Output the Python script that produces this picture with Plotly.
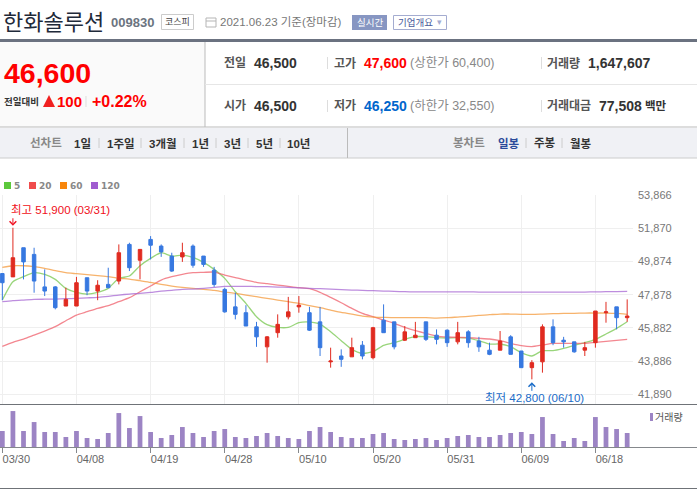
"""한화솔루션 일봉 차트 (네이버 금융 스타일) 재현."""
import plotly.graph_objects as go
from plotly.subplots import make_subplots

W, H = 697, 489
KR = "Liberation Sans, Noto Sans CJK KR"

dates = [
    "03/30", "03/31", "04/01", "04/02", "04/05", "04/06", "04/07", "04/08", "04/09", "04/12",
    "04/13", "04/14", "04/15", "04/16", "04/19", "04/20", "04/21", "04/22", "04/23", "04/26",
    "04/27", "04/28", "04/29", "04/30", "05/03", "05/04", "05/06", "05/07", "05/10", "05/11",
    "05/12", "05/13", "05/14", "05/17", "05/18", "05/20", "05/21", "05/24", "05/25", "05/26",
    "05/27", "05/28", "05/31", "06/01", "06/02", "06/03", "06/04", "06/07", "06/08", "06/09",
    "06/10", "06/11", "06/14", "06/15", "06/16", "06/17", "06/18", "06/21", "06/22", "06/23",
]
open_ = [
    49150, 48950, 50700, 50300, 48350, 48350, 47200, 47200, 48900, 48100,
    48500, 48700, 50900, 49950, 51200, 50800, 50200, 50150, 50800, 50200,
    49350, 48200, 47150, 46800, 45950, 44750, 45600, 46550, 47150, 46800,
    46250, 43850, 44200, 44150, 44850, 44100, 46350, 46250, 45150, 45300,
    46250, 45450, 45750, 45050, 45650, 45100, 44550, 44550, 45350, 44500,
    43500, 43850, 45950, 45150, 45050, 44550, 45000, 46800, 47150, 46500,
]
high = [
    49150, 51900, 50700, 50700, 49400, 48400, 48300, 48950, 48900, 48750,
    49500, 50900, 51000, 50600, 51400, 50900, 50400, 51000, 50900, 50200,
    49550, 48300, 48000, 47250, 46250, 45400, 46700, 47750, 47800, 47150,
    47150, 44700, 44600, 45300, 45100, 45950, 47300, 46250, 46000, 46250,
    46250, 45800, 45800, 46250, 45750, 45350, 45000, 45700, 45450, 44500,
    43950, 46100, 46400, 45350, 45050, 45050, 46900, 47450, 47150, 47600,
]
low = [
    47550, 48950, 48800, 48000, 47800, 47000, 47200, 47200, 47850, 47550,
    48300, 48500, 49300, 48800, 50000, 50150, 49250, 49850, 49500, 49550,
    48350, 46800, 46400, 46000, 44750, 43800, 45300, 46400, 46800, 45700,
    44200, 43500, 43550, 44150, 44000, 44000, 45600, 44600, 45100, 45300,
    45100, 44900, 44750, 44900, 44700, 44450, 44250, 44550, 44300, 43500,
    42800, 43200, 44850, 44700, 44400, 44200, 44700, 46200, 45800, 46250,
]
close = [
    48600, 50100, 49850, 48700, 48100, 47100, 47600, 48600, 48100, 48450,
    48300, 50400, 49500, 50600, 50850, 50450, 49300, 50400, 49650, 49700,
    48500, 46850, 46700, 46000, 45350, 45350, 46100, 46850, 47250, 45750,
    44700, 43900, 44000, 44700, 44200, 45900, 45600, 44750, 45650, 45450,
    45200, 45200, 45000, 45600, 45000, 44750, 44300, 45100, 44300, 43500,
    43800, 45950, 45000, 45050, 44450, 44700, 46900, 46850, 46500, 46600,
]
ma5 = [
    47560, 48660, 48960, 49200, 49100, 48800, 48260, 48020, 47920, 48020,
    48260, 48860, 49000, 49620, 50060, 50400, 50200, 50260, 50120, 49820,
    49400, 48860, 48060, 47360, 46560, 46080, 45920, 45920, 46200, 46240,
    46120, 45660, 45120, 44600, 44360, 44460, 44840, 45000, 45200, 45360,
    45360, 45300, 45280, 45300, 45280, 45120, 44920, 44920, 44760, 44400,
    44200, 44520, 44520, 44660, 44840, 45000, 45200, 45520, 45860, 46260,
]
ma20 = [
    44780, 45020, 45220, 45460, 45700, 45960, 46320, 46660, 46860, 47060,
    47220, 47460, 47700, 48060, 48400, 48760, 48960, 49100, 49200, 49220,
    49240, 49060, 48900, 48760, 48620, 48540, 48460, 48380, 48300, 48240,
    48020, 47720, 47400, 47060, 46760, 46560, 46360, 46160, 45920, 45720,
    45560, 45400, 45340, 45320, 45300, 45260, 45220, 45120, 44960, 44820,
    44760, 44860, 44960, 44960, 44960, 44960, 45020, 45080, 45140, 45200,
]
ma60 = [
    49520, 49620, 49620, 49560, 49460, 49320, 49200, 49140, 49080, 49020,
    48960, 48860, 48820, 48720, 48620, 48500, 48400, 48320, 48260, 48200,
    48140, 48040, 47960, 47860, 47760, 47660, 47560, 47460, 47360, 47220,
    47100, 46960, 46820, 46720, 46600, 46540, 46520, 46500, 46500, 46500,
    46500, 46480, 46500, 46540, 46580, 46640, 46680, 46720, 46720, 46700,
    46700, 46720, 46740, 46760, 46760, 46780, 46780, 46780, 46760, 46700,
]
ma120 = [
    47460, 47520, 47560, 47600, 47610, 47620, 47640, 47660, 47690, 47720,
    47780, 47860, 47920, 47960, 48020, 48100, 48140, 48200, 48220, 48260,
    48320, 48380, 48380, 48380, 48370, 48360, 48340, 48320, 48290, 48260,
    48240, 48220, 48190, 48160, 48140, 48120, 48100, 48080, 48060, 48050,
    48050, 48050, 48050, 48050, 48050, 48040, 48040, 48030, 48030, 48030,
    48030, 48030, 48030, 48030, 48030, 48040, 48050, 48060, 48070, 48080,
]
volume = [
    1883000, 4237000, 1883000, 2942000, 1765000, 1765000, 1177000, 1883000, 1059000, 941000,
    1648000, 4001000, 2236000, 3648000, 1765000, 1059000, 1412000, 2354000, 1648000, 1177000,
    1883000, 2118000, 1177000, 1059000, 1295000, 1648000, 1295000, 1059000, 941000, 1883000,
    2354000, 1765000, 1177000, 1059000, 1059000, 1530000, 1648000, 941000, 824000, 941000,
    1059000, 824000, 1059000, 1295000, 1412000, 1177000, 1177000, 1412000, 1648000, 1765000,
    1530000, 3531000, 1530000, 706000, 1059000, 706000, 3531000, 2354000, 2118000, 1647607,
]
price_ticks = [53866, 51870, 49874, 47878, 45882, 43886, 41890]
date_ticks = ["03/30", "04/08", "04/19", "04/28", "05/10", "05/20", "05/31", "06/09", "06/18"]
ma_names = ["5", "20", "60", "120"]
ma_series = [ma5, ma20, ma60, ma120]
ma_line_colors = ["#78c850", "#f0606c", "#f59a3c", "#a868d4"]
ma_key_colors = ["#5cc83c", "#f04c4c", "#f8860c", "#a05cd0"]
ma_key_x = [4, 29, 60, 91]

RED, BLUE = "#e02b20", "#3778e0"


def px(x):
    return x / W


def py(y):
    return 1 - y / H


def add_text(fig, text, x, y, size=12, color="#333", bold=False, anchor="left", family=KR):
    if bold:
        text = f"<b>{text}</b>"
    fig.add_annotation(
        text=text, x=px(x), y=py(y), xref="paper", yref="paper",
        xanchor=anchor, yanchor="middle", showarrow=False,
        font={"size": size, "color": color, "family": family},
        borderpad=0, borderwidth=0,
    )


def add_rect(fig, x0, y0, x1, y1, fill=None, line=None):
    fig.add_shape(
        type="rect", xref="paper", yref="paper",
        x0=px(x0), x1=px(x1), y0=py(y0), y1=py(y1),
        fillcolor=fill or "rgba(0,0,0,0)",
        line={"color": line or "rgba(0,0,0,0)", "width": 1 if line else 0},
        layer="below",
    )


def add_line(fig, x0, y0, x1, y1, color, width=1):
    fig.add_shape(
        type="line", xref="paper", yref="paper",
        x0=px(x0), x1=px(x1), y0=py(y0), y1=py(y1),
        line={"color": color, "width": width},
    )


def add_header(fig):
    add_text(fig, "한화솔루션", 3, 23, size=22, color="#1f2a3a")
    add_text(fig, "009830", 111, 23, size=13, color="#6b7480", bold=True)
    add_rect(fig, 161.5, 14.5, 193.5, 29.5, line="#ccc")
    add_text(fig, "코스피", 177.5, 22, size=9, color="#444", anchor="center")
    add_rect(fig, 206, 18, 216, 27, line="#b5b5b5")
    add_line(fig, 206, 21, 216, 21, "#b5b5b5")
    add_text(fig, "2021.06.23 기준(장마감)", 220, 22, size=11.5, color="#777")
    add_rect(fig, 352, 15, 387, 30, fill="#8796c2")
    add_text(fig, "실시간", 369.5, 22, size=9.5, color="#fff", anchor="center")
    add_rect(fig, 393.5, 15.5, 446.5, 29.5, fill="#fff", line="#a4acd0")
    add_text(fig, "기업개요", 398, 22, size=9.5, color="#4a5a9a")
    add_text(fig, "▾", 439, 22, size=9, color="#a4acd0", anchor="center")

    # 시세 영역
    add_rect(fig, 0, 42, 205, 127, fill="#fafafa")
    add_line(fig, 0, 40.5, W, 40.5, "#6b7280", 3)
    add_line(fig, 205, 42, 205, 127, "#bbb")
    add_line(fig, 205, 84.5, W, 84.5, "#e6e6e6")
    add_line(fig, 0, 127, W, 127, "#bbb")
    add_text(fig, "46,600", 4, 73, size=28.5, color="#f00", bold=True)
    add_text(fig, "전일대비", 4, 101, size=9.5, color="#333", bold=True)
    fig.add_shape(
        type="path", xref="paper", yref="paper",
        path=f"M {px(43)} {py(107)} L {px(55)} {py(107)} L {px(49)} {py(95)} Z",
        fillcolor="#f02020", line={"width": 0},
    )
    add_text(fig, "100", 57, 101, size=15, color="#f00", bold=True)
    add_line(fig, 86, 96, 86, 107, "#ddd")
    add_text(fig, "+0.22%", 92, 101, size=16, color="#f00", bold=True)

    labels = [
        ("전일", 224, 63, "#555"), ("시가", 224, 106, "#555"),
        ("고가", 334, 63, "#555"), ("저가", 334, 106, "#555"),
        ("거래량", 547, 63, "#555"), ("거래대금", 547, 106, "#555"),
    ]
    for text, x, y, color in labels:
        add_text(fig, text, x, y, size=12, color=color, bold=True)
    numbers = [
        ("46,500", 254, 63, "#333"), ("46,500", 254, 106, "#333"),
        ("47,600", 364, 63, "#f00"), ("46,250", 364, 106, "#0066cc"),
        ("1,647,607", 588, 63, "#333"), ("77,508", 599, 106, "#333"),
    ]
    for text, x, y, color in numbers:
        add_text(fig, text, x, y, size=14, color=color, bold=True)
    add_text(fig, "(상한가 60,400)", 410, 63, size=12.5, color="#888")
    add_text(fig, "(하한가 32,550)", 410, 106, size=12.5, color="#888")
    add_text(fig, "백만", 645, 106, size=11.5, color="#333", bold=True)
    for x in (327.5, 541.5):
        add_line(fig, x, 57, x, 69, "#ddd")
        add_line(fig, x, 100, x, 112, "#ddd")

    # 차트 기간 메뉴
    add_rect(fig, 0, 128, W, 158, fill="#f0f1f5")
    add_line(fig, 0, 158, W, 158, "#ccc")
    add_line(fig, 347.5, 128, 347.5, 158, "#bbb")
    add_text(fig, "선차트", 30, 143, size=11.5, color="#888", bold=True)
    menu = [("1일", 74), ("1주일", 107), ("3개월", 149), ("1년", 192), ("3년", 224), ("5년", 256), ("10년", 287)]
    for text, x in menu:
        add_text(fig, text, x, 143, size=11.5, color="#333", bold=True)
    for x in (99, 141, 184, 216, 248, 280, 526, 562):
        add_line(fig, x, 138, x, 148, "#ccc")
    add_text(fig, "봉차트", 453, 143, size=11.5, color="#888", bold=True)
    add_text(fig, "일봉", 498, 143, size=11.5, color="#2a4a9a", bold=True)
    add_text(fig, "주봉", 534, 143, size=11.5, color="#333", bold=True)
    add_text(fig, "월봉", 570, 143, size=11.5, color="#333", bold=True)

    # 범례
    for name, color, x in zip(ma_names, ma_key_colors, ma_key_x):
        add_rect(fig, x, 182, x + 7, 189, fill=color)
        add_text(fig, name, x + 10, 185.5, size=9, color="#888", bold=True, family="DejaVu Sans")
    add_rect(fig, 650, 413, 653, 421, fill="#9c84c4")
    add_text(fig, "거래량", 655, 417, size=10, color="#555")

    # 패널 경계선
    add_line(fig, 0, 404.5, W, 404.5, "#6f7378")
    add_line(fig, 0, 447.5, W, 447.5, "#85888c")
    add_line(fig, 0, 488.5, W, 488.5, "#6f7378")


def add_extreme_mark(fig, text, date, value, color, ay, standoff, xshift, yshift):
    fig.add_annotation(
        text="", x=date, y=value, xref="x3", yref="y3", showarrow=True,
        arrowhead=4, arrowsize=1.3, arrowwidth=1, arrowcolor=color,
        ax=0, ay=ay, standoff=standoff,
    )
    fig.add_annotation(
        text=text, x=date, y=value, xref="x3", yref="y3", showarrow=False,
        xanchor="left", yanchor="middle", xshift=xshift, yshift=yshift,
        font={"size": 11.5, "color": color, "family": KR},
    )


fig = make_subplots(rows=2, cols=1, shared_xaxes=False)

for name, values, color in zip(ma_names, ma_series, ma_line_colors):
    fig.add_trace(
        go.Scatter(
            x=dates, y=values, mode="lines", name=name, opacity=0.75,
            line={"color": color, "width": 1.3, "shape": "spline", "smoothing": 0.6},
            showlegend=False,
        ),
        row=1, col=1,
    )

fig.add_trace(
    go.Candlestick(
        x=dates, open=open_, high=high, low=low, close=close,
        xaxis="x3", yaxis="y3", whiskerwidth=0, showlegend=False,
        increasing={"line": {"color": RED, "width": 1}, "fillcolor": RED},
        decreasing={"line": {"color": BLUE, "width": 1}, "fillcolor": BLUE},
    )
)
fig.add_trace(
    go.Bar(x=dates, y=volume, marker={"color": "#9c84c4", "line": {"width": 0}}, showlegend=False),
    row=2, col=1,
)

# 최고/최저 표시
add_extreme_mark(fig, "최고 51,900 (03/31)", dates[high.index(max(high))], max(high), "#f01020", -11, 2, -3.5, 18)
add_extreme_mark(fig, "최저 42,800 (06/10)", dates[low.index(min(low))], min(low), "#1a6cc8", 13, 3, -49, -18.5)

add_header(fig)

x_range = [-0.22, 59.55]
y_range = [41319, 53866]
fig.update_layout(
    width=W, height=H,
    margin={"l": 0, "r": 0, "t": 0, "b": 0},
    paper_bgcolor="#fff", plot_bgcolor="rgba(0,0,0,0)",
    showlegend=False, boxgap=0.53, bargap=0.55,
    xaxis={
        "domain": [0, 633 / W], "range": x_range, "type": "category", "automargin": False,
        "tickvals": date_ticks, "showticklabels": False, "ticks": "",
        "showgrid": True, "gridcolor": "#efefef", "gridwidth": 1, "zeroline": False,
        "rangeslider": {"visible": False},
    },
    yaxis={
        "domain": [1 - 404 / H, 1 - 195 / H], "range": y_range, "side": "right", "automargin": False,
        "tickvals": price_ticks, "tickformat": ",d", "ticks": "", "showline": False,
        "tickfont": {"family": "Liberation Sans", "size": 11, "color": "#777"},
        "showgrid": True, "gridcolor": "#efefef", "gridwidth": 1, "zeroline": False,
        "ticklabelstandoff": 4,
    },
    xaxis3={
        "overlaying": "x", "matches": "x", "type": "category", "visible": False, "automargin": False,
        "rangeslider": {"visible": False},
    },
    yaxis3={"overlaying": "y", "matches": "y", "visible": False, "automargin": False},
    xaxis2={
        "domain": [0, 633 / W], "range": x_range, "type": "category", "automargin": False,
        "tickvals": date_ticks, "ticktext": date_ticks, "ticks": "outside", "ticklen": 5,
        "tickcolor": "#85888c", "tickwidth": 1, "showgrid": False, "zeroline": False,
        "tickfont": {"family": "Liberation Sans", "size": 11, "color": "#666"},
        "ticklabelshift": 14, "ticklabelstandoff": -3,
    },
    yaxis2={
        "domain": [1 - 447 / H, 1 - 405 / H], "range": [0, 4950000], "visible": False, "automargin": False,
    },
)

fig.write_html(
    "out.html",
    config={"displayModeBar": False},
    post_script="document.body.style.margin='0';document.body.style.overflow='hidden';",
)
